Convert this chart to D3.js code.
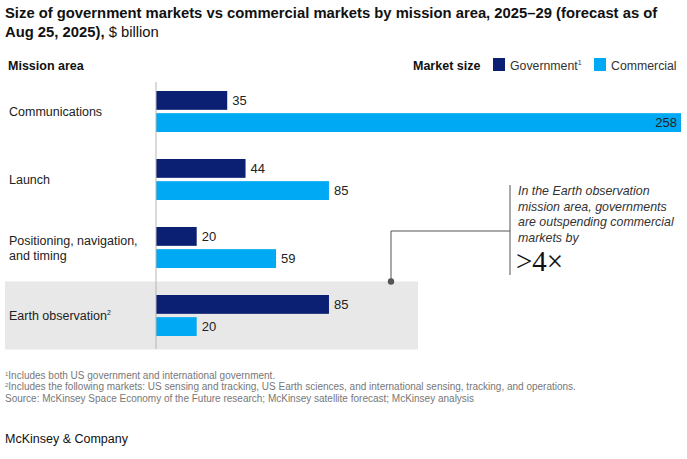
<!DOCTYPE html>
<html>
<head>
<meta charset="utf-8">
<script src="https://cdn.jsdelivr.net/npm/d3@7"></script>
<style>
  body { margin: 0; background: #fff; }
  svg text { font-family: "Liberation Sans", Arial, sans-serif; }
</style>
</head>
<body>
<svg id="chart"></svg>
<script>
const categories = ['Communications', 'Launch', 'Positioning, navigation, and timing', 'Earth observation']
const catLines = [['Communications'], ['Launch'], ['Positioning, navigation,', 'and timing'], ['Earth observation']]
const series = ['Government', 'Commercial']
const government = [35, 44, 20, 85]
const commercial = [258, 85, 59, 20]
const colors = ['#0b1f73', '#00a9f4']

const width = 687
const height = 459
const axisX = 156

const svg = d3.select('#chart').attr('width', width).attr('height', height)

const xScale = d3.scaleLinear().domain([0, 258]).range([axisX, 681])
const yScale = d3.scaleBand().domain(categories).range([77.5, 349.5])
const inner = d3.scaleBand().domain(series).range([-20.5, 20.5]).paddingInner(0.15)

// title
const title = svg.append('text').attr('x', 5).attr('y', 18)
  .style('font-size', '14.8px').style('font-weight', 'bold').attr('fill', '#111')
title.append('tspan').text('Size of government markets vs commercial markets by mission area, 2025\u201329 (forecast as of')
const t2 = svg.append('text').attr('x', 5).attr('y', 37).style('font-size', '14.8px').attr('fill', '#111')
t2.append('tspan').style('font-weight', 'bold').text('Aug 25, 2025), ')
t2.append('tspan').text('$ billion')

// highlight band for Earth observation
svg.append('rect')
  .attr('x', 5).attr('width', 413)
  .attr('y', yScale('Earth observation')).attr('height', yScale.bandwidth())
  .attr('fill', '#e8e8e8')

// headers
svg.append('text').attr('x', 8).attr('y', 70).text('Mission area')
  .style('font-size', '12.5px').style('font-weight', 'bold').attr('fill', '#111')
svg.append('text').attr('x', 413).attr('y', 70).text('Market size')
  .style('font-size', '12.5px').style('font-weight', 'bold').attr('fill', '#111')

// legend
const legendX = [493, 594]
const legendLabels = ['Government', 'Commercial']
legendLabels.forEach((name, i) => {
  svg.append('rect').attr('x', legendX[i]).attr('y', 58).attr('width', 12).attr('height', 13).attr('fill', colors[i])
  const lt = svg.append('text').attr('x', legendX[i] + 17).attr('y', 70)
    .style('font-size', '12.3px').attr('fill', '#333')
  lt.append('tspan').text(name)
  if (i === 0) lt.append('tspan').attr('dy', -5).style('font-size', '7px').text('1')
})

// category labels
catLines.forEach((lines, i) => {
  const cy = yScale(categories[i]) + yScale.bandwidth() / 2
  const t = svg.append('text').attr('x', 9).style('font-size', '12.5px').attr('fill', '#222')
  lines.forEach((l, j) => {
    t.append('tspan').attr('x', 9)
      .attr('y', cy + 4.5 + (j - (lines.length - 1) / 2) * 15)
      .text(l)
  })
  if (i === 3) t.append('tspan').attr('dy', -5).style('font-size', '7px').text('2')
})

// bars
const data = []
categories.forEach((c, i) => {
  data.push({cat: c, s: 'Government', v: government[i], col: colors[0]})
  data.push({cat: c, s: 'Commercial', v: commercial[i], col: colors[1]})
})

const groupY = d => yScale(d.cat) + yScale.bandwidth() / 2 + inner(d.s)

svg.selectAll('rect.bar')
  .data(data)
  .enter()
  .append('rect')
  .attr('class', 'bar')
  .attr('x', xScale(0))
  .attr('y', d => groupY(d))
  .attr('width', d => xScale(d.v) - xScale(0))
  .attr('height', inner.bandwidth())
  .attr('fill', d => d.col)

svg.selectAll('text.val')
  .data(data)
  .enter()
  .append('text')
  .attr('class', 'val')
  .attr('x', d => d.v > 200 ? xScale(d.v) - 4 : xScale(d.v) + 5)
  .attr('y', d => groupY(d) + inner.bandwidth() / 2 + 4.5)
  .attr('text-anchor', d => d.v > 200 ? 'end' : 'start')
  .style('font-size', '13px')
  .attr('fill', '#222')
  .text(d => d.v)

// axis line
svg.append('line').attr('x1', axisX).attr('x2', axisX).attr('y1', 82).attr('y2', 349)
  .attr('stroke', '#b5b5b5').attr('stroke-width', 1)

// annotation
const dotX = 391
const dotY = yScale('Earth observation')
svg.append('path')
  .attr('d', `M${dotX},${dotY} V231 H510`)
  .attr('fill', 'none').attr('stroke', '#555').attr('stroke-width', 1)
svg.append('line').attr('x1', 510).attr('x2', 510).attr('y1', 185).attr('y2', 275)
  .attr('stroke', '#555').attr('stroke-width', 1)
svg.append('circle').attr('cx', dotX).attr('cy', dotY).attr('r', 3.2).attr('fill', '#555')

const noteLines = ['In the Earth observation', 'mission area, governments', 'are outspending commercial', 'markets by']
noteLines.forEach((l, i) => {
  svg.append('text').attr('x', 518).attr('y', 195 + i * 15.5).text(l)
    .style('font-size', '12.4px').style('font-style', 'italic').attr('fill', '#333')
})
svg.append('text').attr('x', 516).attr('y', 271).text('>4\u00d7')
  .style('font-family', '"Liberation Serif", "DejaVu Serif", serif')
  .style('font-size', '29px').attr('fill', '#111')

// footnotes
const notes = [
  ['1', 'Includes both US government and international government.'],
  ['2', 'Includes the following markets: US sensing and tracking, US Earth sciences, and international sensing, tracking, and operations.'],
  ['', ' Source: McKinsey Space Economy of the Future research; McKinsey satellite forecast; McKinsey analysis']
]
notes.forEach((n, i) => {
  const t = svg.append('text').attr('x', 5).attr('y', 379 + i * 11.3)
    .style('font-size', '10px').attr('fill', '#777')
  if (n[0]) t.append('tspan').attr('dy', -3).style('font-size', '6px').text(n[0])
  t.append('tspan').attr('dy', n[0] ? 3 : 0).text(n[1])
})

svg.append('text').attr('x', 5).attr('y', 443).text('McKinsey & Company')
  .style('font-size', '12.5px').attr('fill', '#111')
</script>
</body>
</html>
